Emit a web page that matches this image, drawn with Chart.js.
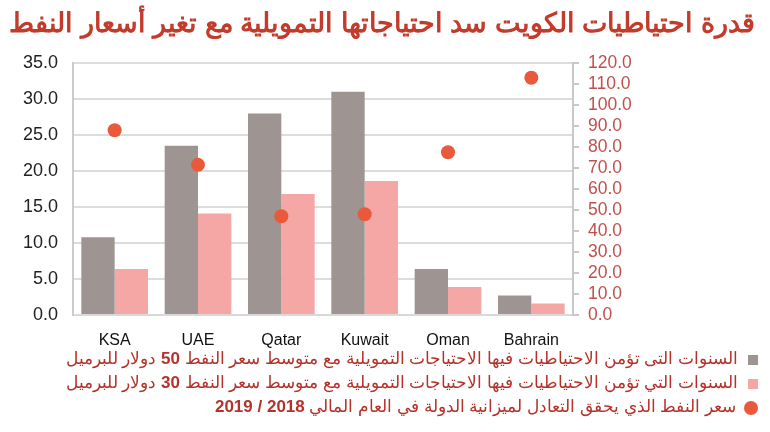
<!DOCTYPE html>
<html lang="ar">
<head>
<meta charset="utf-8">
<script src="https://cdn.jsdelivr.net/npm/chart.js@4.4.1/dist/chart.umd.min.js"></script>
<style>
    html, body { margin: 0; padding: 0; background: #fff; }
    #wrap { position: relative; width: 770px; height: 432px; overflow: hidden; font-family: "Liberation Sans", Arial, sans-serif; }
    #title {
        position: absolute; right: 15px; top: 7px;
        direction: rtl; white-space: nowrap;
        font-size: 27px; font-weight: bold; color: #c33b2b;
    }
    #chartBox { position: absolute; left: 0; top: 0; width: 770px; height: 352px; }
    .leg {
        position: absolute; right: 12px; direction: rtl; white-space: nowrap;
        font-size: 17px; color: #b5322a; line-height: 20px;
    }
    .leg b { font-weight: bold; }
    .mk { display: inline-block; width: 10px; height: 10px; margin-left: 10px; vertical-align: middle; }
</style>
</head>
<body>
<div id="wrap">
    <div id="chartBox"><canvas id="chart"></canvas></div>
    <div id="title">قدرة احتياطيات الكويت سد احتياجاتها التمويلية مع تغير أسعار النفط</div>
    <div class="leg" style="top:349px"><span class="mk" style="background:#9e9593"></span>السنوات التى تؤمن الاحتياطيات فيها الاحتياجات التمويلية مع متوسط سعر النفط <b>50</b> دولار للبرميل</div>
    <div class="leg" style="top:373px"><span class="mk" style="background:#f4a7a4"></span>السنوات التي تؤمن الاحتياطيات فيها الاحتياجات التمويلية مع متوسط سعر النفط <b>30</b> دولار للبرميل</div>
    <div class="leg" style="top:397px"><span class="mk" style="background:#e9593a;border-radius:50%;width:14px;height:14px;margin-left:8px"></span>سعر النفط الذي يحقق التعادل لميزانية الدولة في العام المالي <b>2018 / 2019</b></div>
</div>
<script>
    "use strict";

    // data
    const countries = ["KSA", "UAE", "Qatar", "Kuwait", "Oman", "Bahrain"];
    const years50 = [10.8, 23.5, 28.0, 31.0, 6.4, 2.7];
    const years30 = [6.4, 14.1, 16.8, 18.6, 3.9, 1.6];
    const breakEven = [88, 71.5, 47, 48, 77.5, 113];

    const leftTicks = { min: 0, max: 35, step: 5 };
    const rightTicks = { min: 0, max: 120, step: 10 };

    const ctx = document.getElementById("chart").getContext("2d");

    new Chart(ctx, {
        type: "bar",
        data: {
            labels: countries,
            datasets: [
                {
                    type: "line",
                    label: "breakeven",
                    data: breakEven,
                    yAxisID: "y1",
                    showLine: false,
                    pointRadius: 7,
                    pointHoverRadius: 7,
                    pointBackgroundColor: "#e9593a",
                    pointBorderWidth: 0,
                    order: 0
                },
                {
                    label: "50",
                    data: years50,
                    backgroundColor: "#9e9593",
                    yAxisID: "y",
                    order: 1
                },
                {
                    label: "30",
                    data: years30,
                    backgroundColor: "#f4a7a4",
                    yAxisID: "y",
                    order: 1
                }
            ]
        },
        options: {
            responsive: true,
            maintainAspectRatio: false,
            animation: false,
            layout: { padding: { top: 63, left: 0, right: 0, bottom: 0 } },
            datasets: {
                bar: { categoryPercentage: 0.8, barPercentage: 1.0 }
            },
            plugins: {
                legend: { display: false },
                tooltip: { enabled: false }
            },
            scales: {
                x: {
                    grid: { display: false },
                    border: { display: true, color: "#d9d9d9", width: 2 },
                    ticks: { color: "#111", font: { size: 16, family: "Liberation Sans" }, padding: 8 },
                    afterFit: (s) => { s.height = 37; }
                },
                y: {
                    position: "left",
                    min: leftTicks.min,
                    max: leftTicks.max,
                    ticks: {
                        stepSize: leftTicks.step,
                        color: "#222",
                        padding: 15,
                        font: { size: 18, family: "Liberation Sans" },
                        callback: (v) => v.toFixed(1)
                    },
                    grid: { color: "#dcdcdc", lineWidth: 2, drawTicks: false },
                    border: { display: true, color: "#cccccc", width: 2 },
                    afterFit: (s) => { s.width = 73; }
                },
                y1: {
                    position: "right",
                    min: rightTicks.min,
                    max: rightTicks.max,
                    ticks: {
                        stepSize: rightTicks.step,
                        autoSkip: false,
                        color: "#c0504d",
                        padding: 9,
                        font: { size: 17.5, family: "Liberation Sans" },
                        callback: (v) => v.toFixed(1)
                    },
                    grid: { drawOnChartArea: false, drawTicks: true, tickLength: 6, color: "#c8c8c8", lineWidth: 2 },
                    border: { display: true, color: "#c8c8c8", width: 2 },
                    afterFit: (s) => { s.width = 197; }
                }
            }
        }
    });
</script>
</body>
</html>
